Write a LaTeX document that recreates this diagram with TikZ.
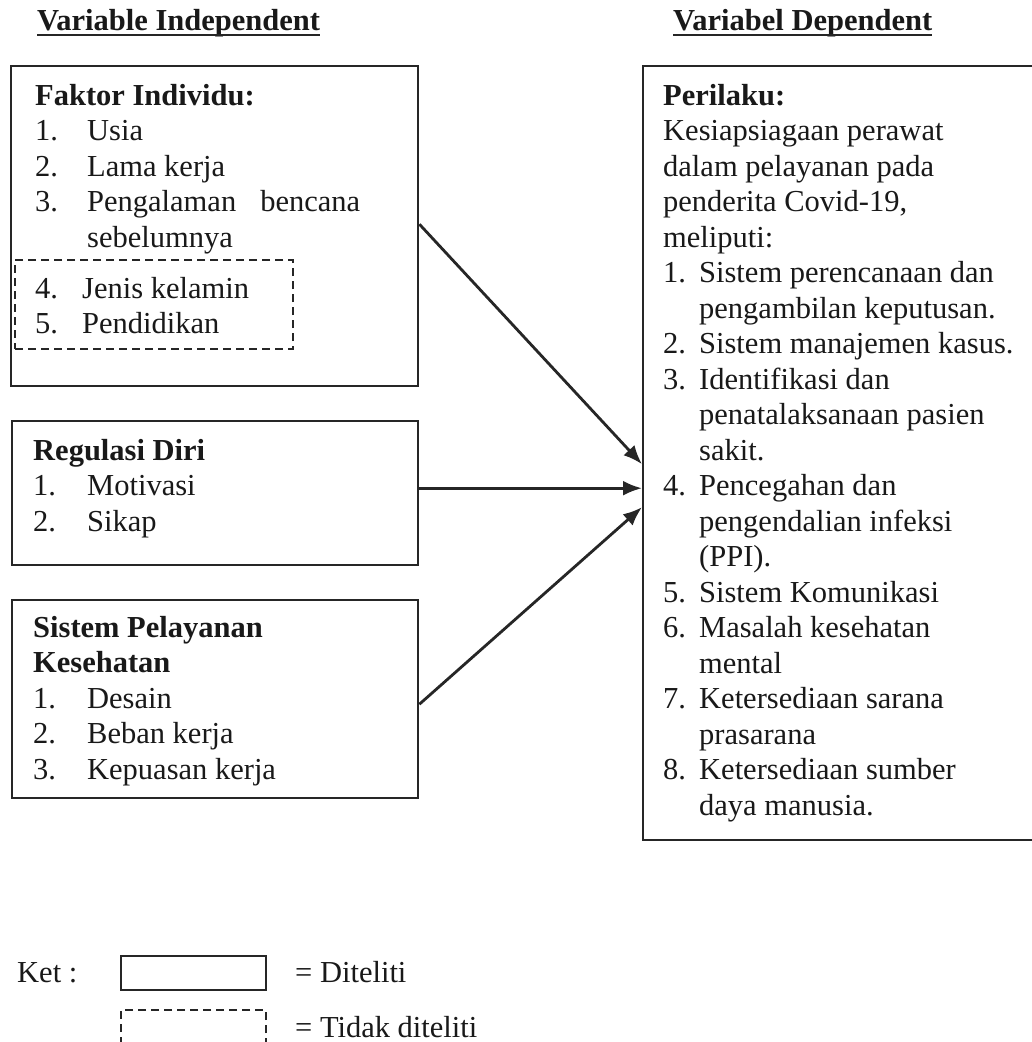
\documentclass[tikz,border=0pt]{standalone}
\usepackage{fontspec}
\setmainfont{Liberation Serif}
\usetikzlibrary{arrows.meta}
% body type size and line spacing
\newcommand\fs{\fontsize{30.5pt}{35.5pt}\selectfont}
% numbered line: indent width, number, text
\newcommand\itm[3]{\hbox{\makebox[#1pt][l]{#2}#3}}
% continuation line of a numbered item
\newcommand\cont[2]{\hbox{\kern#1pt #2}}
\tikzset{
  box/.style={draw=black!85, line width=2.4pt, rectangle, inner sep=0pt, anchor=north west},
  dbox/.style={box, dash pattern=on 8pt off 5pt, line width=2pt},
  txt/.style={inner sep=0pt, anchor=base west, font=\fs, text=black!90},
  link/.style={draw=black!85, line width=2.8pt, -{Latex[length=19pt,width=15pt]}},
  uline/.style={line width=2.4pt, draw=black!85}
}
\begin{document}
\begin{tikzpicture}[x=1pt,y=-1pt]
\useasboundingbox (0,0) rectangle (1032,1042);
\clip (0,0) rectangle (1032,1042);
\fill[white] (0,0) rectangle (1032,1042);

% column headers
\node[txt, font=\fs\bfseries] (hdrL) at (37,30) {Variable Independent};
\node[txt, font=\fs\bfseries] (hdrR) at (673,30) {Variabel Dependent};
\draw[uline] ([yshift=-5pt]hdrL.base west) -- ([yshift=-5pt]hdrL.base east);
\draw[uline] ([yshift=-5pt]hdrR.base west) -- ([yshift=-5pt]hdrR.base east);

% independent variable boxes
\node[box, minimum width=407pt, minimum height=320pt] (fi) at (10,65) {};
\node[box, minimum width=406pt, minimum height=144pt] (rd) at (11,420) {};
\node[box, minimum width=406pt, minimum height=198pt] (sp) at (11,599) {};
\node[dbox, minimum width=278pt, minimum height=89pt] (nt) at (14,259) {};

% dependent variable box
\node[box, minimum width=394pt, minimum height=774pt] (per) at (642,65) {};

% box contents
\node[txt] (fitxt) at (35,105) {\vtop{
  \hbox{\bfseries Faktor Individu:}
  \itm{52}{1.}{Usia}
  \itm{52}{2.}{Lama kerja}
  \itm{52}{3.}{\makebox[273pt][s]{Pengalaman bencana}}
  \cont{52}{sebelumnya}}};
\node[txt] (nttxt) at (35,298) {\vtop{
  \itm{47}{4.}{Jenis kelamin}
  \itm{47}{5.}{Pendidikan}}};
\node[txt] (rdtxt) at (33,460) {\vtop{
  \hbox{\bfseries Regulasi Diri}
  \itm{54}{1.}{Motivasi}
  \itm{54}{2.}{Sikap}}};
\node[txt] (sptxt) at (33,637) {\vtop{
  \hbox{\bfseries Sistem Pelayanan}
  \hbox{\bfseries Kesehatan}
  \itm{54}{1.}{Desain}
  \itm{54}{2.}{Beban kerja}
  \itm{54}{3.}{Kepuasan kerja}}};
\node[txt] (pertxt) at (663,105) {\vtop{
  \hbox{\bfseries Perilaku:}
  \hbox{Kesiapsiagaan perawat}
  \hbox{dalam pelayanan pada}
  \hbox{penderita Covid-19,}
  \hbox{meliputi:}
  \itm{36}{1.}{Sistem perencanaan dan}
  \cont{36}{pengambilan keputusan.}
  \itm{36}{2.}{Sistem manajemen kasus.}
  \itm{36}{3.}{Identifikasi dan}
  \cont{36}{penatalaksanaan pasien}
  \cont{36}{sakit.}
  \itm{36}{4.}{Pencegahan dan}
  \cont{36}{pengendalian infeksi}
  \cont{36}{(PPI).}
  \itm{36}{5.}{Sistem Komunikasi}
  \itm{36}{6.}{Masalah kesehatan}
  \cont{36}{mental}
  \itm{36}{7.}{Ketersediaan sarana}
  \cont{36}{prasarana}
  \itm{36}{8.}{Ketersediaan sumber}
  \cont{36}{daya manusia.}}};

% connectors
\draw[link] ([yshift=2pt]fi.east) -- ([yshift=-11pt]per.west);
\draw[link] ([yshift=5pt]rd.east) -- ([yshift=-35pt]per.west);
\draw[link] ([yshift=-5pt]sp.east) -- ([yshift=-54pt]per.west);

% legend
\node[txt] (ket) at (17,982) {Ket :};
\node[box, minimum width=145pt, minimum height=34pt] (lgs) at (120,955) {};
\node[dbox, minimum width=145pt, minimum height=60pt] (lgd) at (120,1009) {};
\node[txt] (lgstxt) at (295,982) {= Diteliti};
\node[txt] (lgdtxt) at (295,1037) {= Tidak diteliti};
\end{tikzpicture}
\end{document}
